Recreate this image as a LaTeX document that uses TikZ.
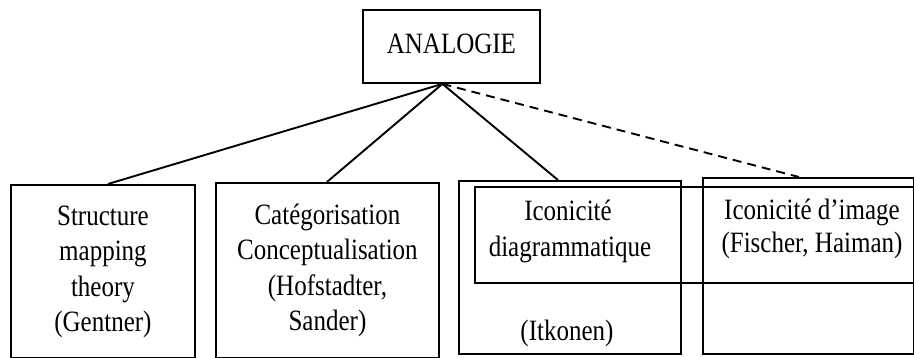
\documentclass[tikz,border=0pt]{standalone}
\usepackage{fontspec}
\usepackage{graphicx}
\setmainfont{Liberation Serif}
\newcommand{\vtext}[2][30]{\scalebox{1}[1.18]{\fontsize{25}{#1}\selectfont\begin{tabular}{@{}c@{}}#2\end{tabular}}}
\begin{document}
\begin{tikzpicture}[x=1pt,y=-1pt,
  box/.style={draw, line width=1.9pt, inner sep=0pt, anchor=north west, align=center},
  lbl/.style={inner sep=0pt, align=center},
  conn/.style={line width=1.9pt},
  dconn/.style={line width=1.9pt, dash pattern=on 9pt off 6pt}]
\useasboundingbox (0,0) rectangle (914,358);
\node[box, minimum width=177pt, minimum height=73pt] (top) at (362,9) {\vtext{ANALOGIE}};
\coordinate (apex) at ([xshift=-9pt]top.south);
\node[box, minimum width=184pt, minimum height=173pt] (b1) at (10,184)
  {\vtext{Structure\\mapping\\theory\\(Gentner)}};
\node[box, minimum width=223pt, minimum height=175pt] (b2) at (215,182)
  {\vtext{Catégorisation\\Conceptualisation\\(Hofstadter,\\Sander)}};
\node[box, minimum width=222pt, minimum height=173pt] (b3) at (458,180) {};
\node[box, minimum width=211pt, minimum height=176pt] (b4) at (702,177) {};
\node[box, minimum width=439pt, minimum height=96pt] (inner) at (474,186) {};
\node[lbl] (t3a) at (568,213) {\vtext{Iconicité}};
\node[lbl] (t3b) at (570,249) {\vtext{diagrammatique}};
\node[lbl] (t3c) at (567,333) {\vtext{(Itkonen)}};
\node[lbl] (t4) at (812,229) {\vtext[28]{Iconicité d’image\\(Fischer, Haiman)}};
\draw[conn] (apex) -- ([xshift=5pt]b1.north);
\draw[conn] (apex) -- ([xshift=-0.5pt]b2.north);
\draw[conn] (apex) -- ([xshift=-12pt]b3.north);
\draw[dconn] (apex) -- ([xshift=-9.5pt]b4.north);
\end{tikzpicture}
\end{document}
